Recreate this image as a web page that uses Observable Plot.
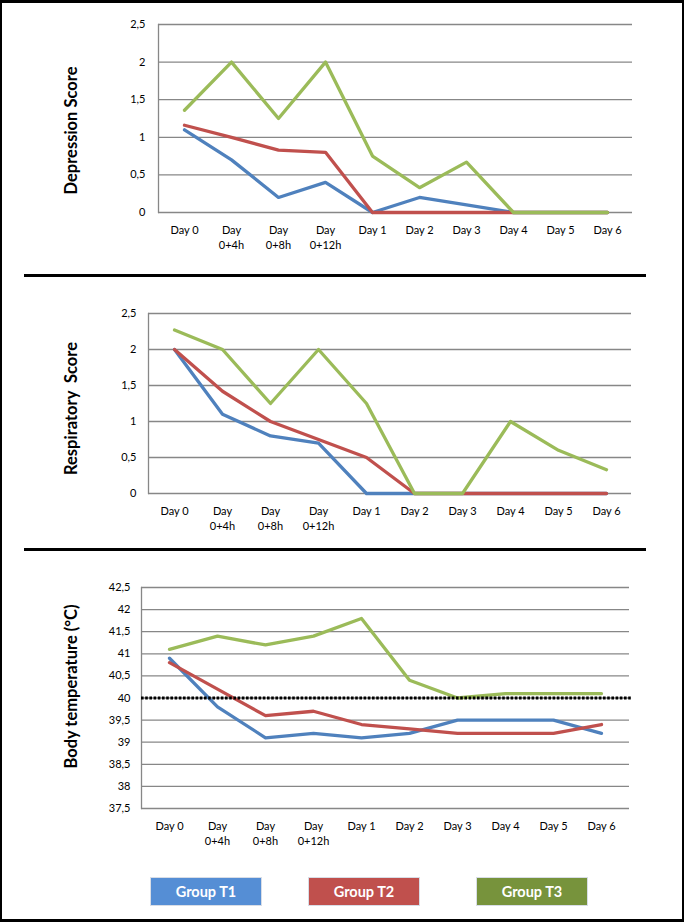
<!DOCTYPE html>
<html>
<head>
<meta charset="utf-8">
<script src="https://cdn.jsdelivr.net/npm/d3@7"></script>
<script src="https://cdn.jsdelivr.net/npm/@observablehq/plot@0.6"></script>
<style>
html, body { margin: 0; padding: 0; background: #fff; overflow: hidden; }
#page { position: relative; width: 685px; height: 922px; overflow: hidden; background: #fff; font-family: Lato, "Open Sans", sans-serif; }
#border { position: absolute; left: 0; top: 0; width: 684px; height: 922px; box-sizing: border-box; border: 2px solid #000; border-top-width: 3px; border-bottom-width: 3px; pointer-events: none; z-index: 10; }
.sep { position: absolute; left: 24px; width: 622px; height: 3px; background: #000; }
.panel { position: absolute; left: 0; }
.panel svg { display: block; background: transparent; }
.leg { position: absolute; top: 877px; width: 112px; height: 29px; color: #fff; font-weight: bold; font-size: 14.5px; display: flex; align-items: center; justify-content: center; box-sizing: border-box; border: 1px solid #d8dde6; font-family: Lato, "Open Sans", sans-serif; }
</style>
</head>
<body>
<div id="page">
  <div class="panel" id="p1" style="top:0px"></div>
  <div class="sep" style="top:274px"></div>
  <div class="panel" id="p2" style="top:278px"></div>
  <div class="sep" style="top:548px"></div>
  <div class="panel" id="p3" style="top:552px"></div>
  <div id="legend"></div>
  <div id="border"></div>
</div>
<script>
// ---- data ----
const days = ["Day 0", "Day\n0+4h", "Day\n0+8h", "Day\n0+12h", "Day 1", "Day 2", "Day 3", "Day 4", "Day 5", "Day 6"];
const groups = ["Group T1", "Group T2", "Group T3"];

const depT1 = [1.1, 0.7, 0.2, 0.4, 0, 0.2, 0.1, 0, 0, 0];
const depT2 = [1.16, 1.0, 0.83, 0.8, 0, 0, 0, 0, 0, 0];
const depT3 = [1.36, 2.0, 1.25, 2.0, 0.75, 0.33, 0.67, 0, 0, 0];

const respT1 = [2.0, 1.1, 0.8, 0.7, 0, 0, 0, 0, 0, 0];
const respT2 = [2.0, 1.42, 1.0, 0.75, 0.5, 0, 0, 0, 0, 0];
const respT3 = [2.27, 2.0, 1.25, 2.0, 1.25, 0, 0, 1.0, 0.6, 0.33];

const tempT1 = [40.9, 39.8, 39.1, 39.2, 39.1, 39.2, 39.5, 39.5, 39.5, 39.2];
const tempT2 = [40.8, 40.2, 39.6, 39.7, 39.4, 39.3, 39.2, 39.2, 39.2, 39.4];
const tempT3 = [41.1, 41.4, 41.2, 41.4, 41.8, 40.4, 40.0, 40.1, 40.1, 40.1];

const scoreTicks = [0, 0.5, 1, 1.5, 2, 2.5];
const tempTicks = [37.5, 38, 38.5, 39, 39.5, 40, 40.5, 41, 41.5, 42, 42.5];
const feverThreshold = [40];

const lineColors = ["#4F81BD", "#C0504D", "#9BBB59"];
const legendColors = ["#558ED5", "#C0504D", "#77933C"];

// ---- drawing ----
const font = 'Lato, "Open Sans", sans-serif';
const fmt = d => String(d).replace(".", ",");

function panel(el, o) {
  const data = [];
  o.series.forEach((vals, gi) => vals.forEach((v, i) => data.push({day: days[i], value: v, group: groups[gi]})));
  const frameMid = o.mt + (o.height - o.mt - o.mb) / 2;
  const marks = [
    Plot.ruleY(o.ticks, {y: d => d, stroke: "#878787", strokeWidth: 1.3}),
    Plot.frame({anchor: "left", stroke: "#878787", strokeWidth: 1.3}),
    Plot.axisY(o.ticks, {tickSize: 0, tickPadding: o.tickPad, tickFormat: fmt, fontSize: 11, fill: "#000", label: null}),
    Plot.axisX({tickSize: 0, tickPadding: 11, fontSize: 11, lineHeight: 1.35, fill: "#000", label: null}),
    Plot.line(data, {x: "day", y: "value", stroke: "group", strokeWidth: 3.3, strokeLinejoin: "round"})
  ];
  if (o.threshold) {
    marks.push(Plot.ruleY(o.threshold, {y: d => d, stroke: "#000", strokeWidth: 3, strokeDasharray: "2.6,1.6", insetRight: -3}));
  }
  marks.push(
    Plot.text([o.title], {frameAnchor: "left", dx: 71 - o.ml, dy: o.titleY - frameMid, rotate: -90, textAnchor: "middle", fontSize: 16.5, fontWeight: "bold", fill: "#000"})
  );
  const chart = Plot.plot({
    width: 685, height: o.height,
    marginLeft: o.ml, marginRight: o.mr, marginTop: o.mt, marginBottom: o.mb,
    style: {fontFamily: font, background: "transparent", overflow: "visible"},
    x: {type: "point", domain: days, padding: 0.5, axis: null},
    y: {domain: o.domain, axis: null},
    color: {domain: groups, range: lineColors},
    marks
  });
  document.getElementById(el).appendChild(chart);
}

panel("p1", {series: [depT1, depT2, depT3], ticks: scoreTicks, domain: [0, 2.5], title: "Depression Score",
  height: 270, mt: 24, mb: 58, ml: 158, mr: 53, tickPad: 13, titleY: 130});
panel("p2", {series: [respT1, respT2, respT3], ticks: scoreTicks, domain: [0, 2.5], title: "Respiratory  Score",
  height: 268, mt: 35, mb: 53, ml: 148, mr: 54, tickPad: 12, titleY: 408 - 278});
panel("p3", {series: [tempT1, tempT2, tempT3], ticks: tempTicks, domain: [37.5, 42.5], title: "Body temperature (°C)",
  height: 310, mt: 35, mb: 54, ml: 141, mr: 56, tickPad: 11, titleY: 686 - 552, threshold: feverThreshold});

// legend
const legLeft = [150, 308, 476];
const legend = document.getElementById("legend");
groups.forEach((g, i) => {
  const d = document.createElement("div");
  d.className = "leg";
  d.style.left = legLeft[i] + "px";
  d.style.background = legendColors[i];
  d.textContent = g;
  legend.appendChild(d);
});
</script>
</body>
</html>
